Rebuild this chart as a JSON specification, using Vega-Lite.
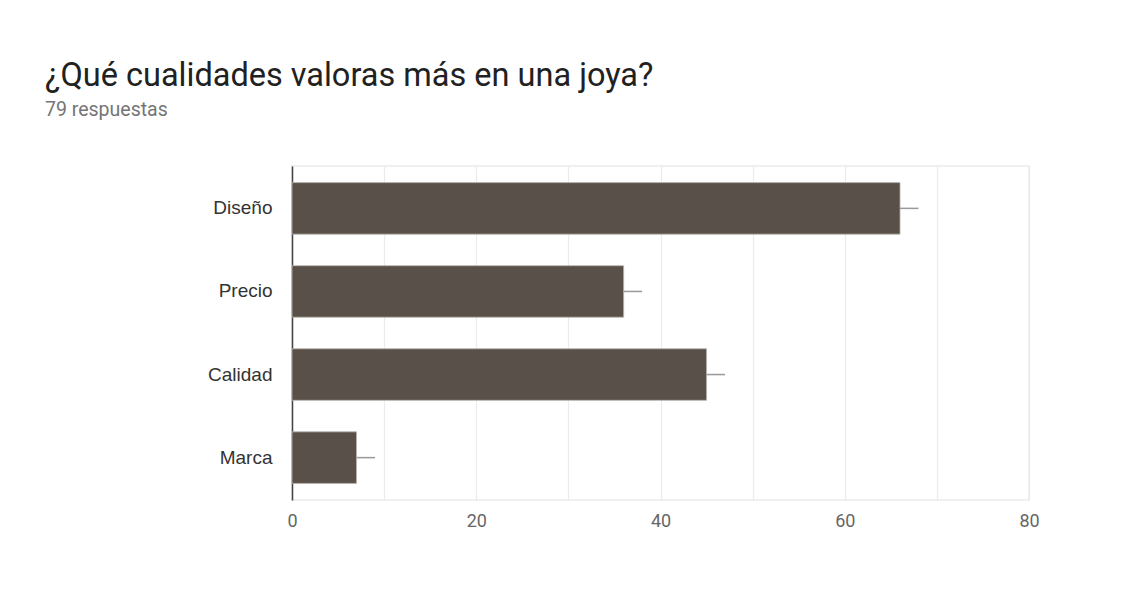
{
  "$schema": "https://vega.github.io/schema/vega-lite/v6.json",
  "autosize": "none",
  "width": 737,
  "height": 334,
  "padding": {"left": 292, "top": 166, "right": 108, "bottom": 97},
  "background": "white",
  "title": {
    "text": "¿Qué cualidades valoras más en una joya?",
    "subtitle": "79 respuestas",
    "anchor": "start",
    "frame": "group",
    "orient": "top",
    "dx": -247,
    "offset": 47,
    "font": "Roboto",
    "fontSize": 32.5,
    "fontWeight": "normal",
    "color": "#212121",
    "subtitleFont": "Roboto",
    "subtitleFontSize": 19.5,
    "subtitleColor": "#757575",
    "subtitlePadding": 8
  },
  "data": {
    "values": [
      {"cualidad": "Diseño", "respuestas": 66, "alto": 68},
      {"cualidad": "Precio", "respuestas": 36, "alto": 38},
      {"cualidad": "Calidad", "respuestas": 45, "alto": 47},
      {"cualidad": "Marca", "respuestas": 7, "alto": 9}
    ]
  },
  "encoding": {
    "y": {
      "field": "cualidad",
      "type": "nominal",
      "sort": null,
      "scale": {"paddingInner": 0.38, "paddingOuter": 0.2},
      "axis": {
        "title": null,
        "ticks": false,
        "domainColor": "#444",
        "domainWidth": 1.5,
        "labelFont": "Liberation Sans",
        "labelFontSize": 19,
        "labelColor": "#333",
        "labelPadding": 20
      }
    }
  },
  "layer": [
    {
      "mark": {"type": "bar", "color": "#595149", "stroke": "#b8b3ad", "strokeWidth": 0.8},
      "encoding": {
        "x": {
          "field": "respuestas",
          "type": "quantitative",
          "scale": {"domain": [0, 80], "nice": false},
          "axis": {
            "title": null,
            "values": [0, 10, 20, 30, 40, 50, 60, 70, 80],
            "labelExpr": "datum.value % 20 === 0 ? datum.label : ''",
            "labelFlush": false,
            "domain": false,
            "ticks": false,
            "grid": true,
            "gridColor": "#ebebeb",
            "gridWidth": 1.2,
            "labelFont": "Roboto",
            "labelFontSize": 18,
            "labelColor": "#666",
            "labelPadding": 12
          }
        }
      }
    },
    {
      "mark": {"type": "rule", "color": "#999", "strokeWidth": 1.5},
      "encoding": {
        "x": {"field": "respuestas", "type": "quantitative"},
        "x2": {"field": "alto"}
      }
    }
  ],
  "config": {
    "view": {"stroke": "#ebebeb", "strokeWidth": 1.5}
  }
}
